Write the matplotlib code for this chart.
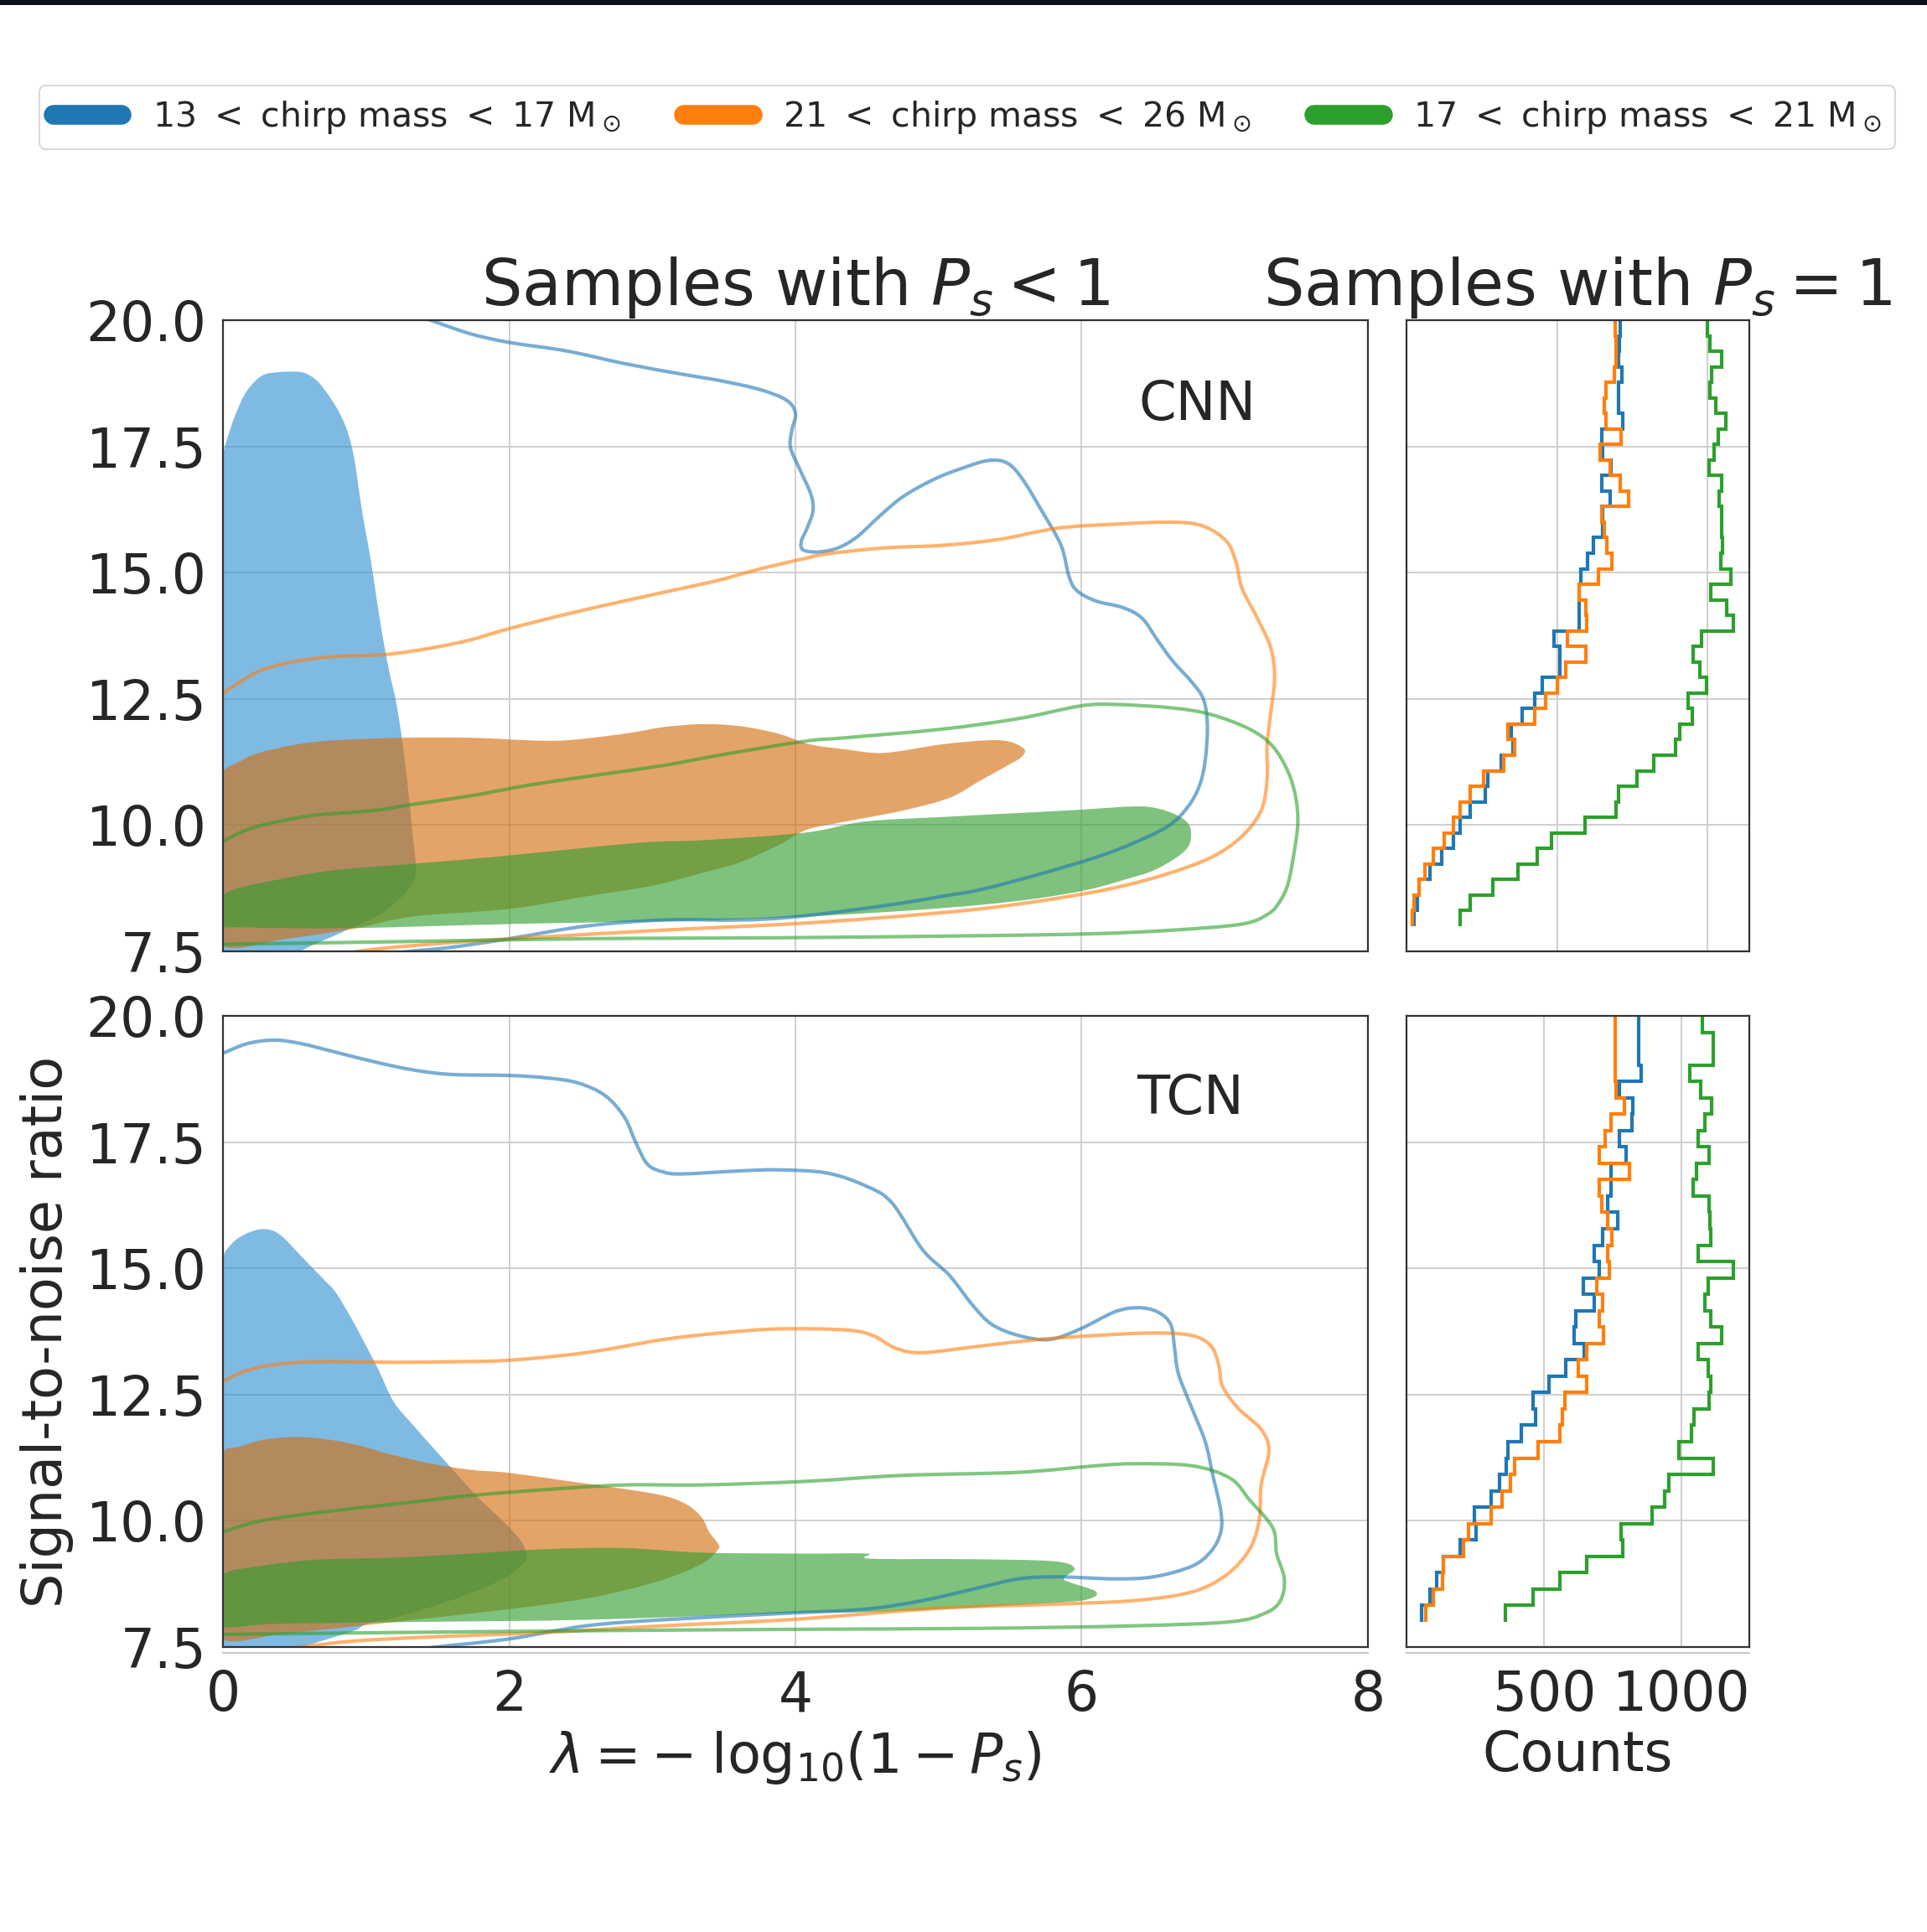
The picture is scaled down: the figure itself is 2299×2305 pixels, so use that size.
import numpy as np
import matplotlib
matplotlib.use("Agg")
import matplotlib.pyplot as plt
from matplotlib.lines import Line2D
from matplotlib.patches import Rectangle, PathPatch
from matplotlib.path import Path

# ---- colours -------------------------------------------------------------
C_BLUE, C_ORANGE, C_GREEN = "#1f77b4", "#ff7f0e", "#2ca02c"
F_BLUE, F_ORANGE, F_GREEN = "#3190d3", "#d46d0c", "#2f9d2f"

LABELS = [r"13 $<$ chirp mass $<$ 17 M$_\odot$",
          r"21 $<$ chirp mass $<$ 26 M$_\odot$",
          r"17 $<$ chirp mass $<$ 21 M$_\odot$"]

# ---- CNN: filled density regions (lambda, SNR) ----------------------------
cnn_fill_blue_x = [0, 0, 0, 0, 0, 0, 0.05, 0.09, 0.144, 0.198, 0.278, 0.386, 0.547, 0.641, 0.708, 0.789,
                   0.856, 0.897, 0.924, 0.95, 0.977, 1.01, 1.045, 1.085, 1.125, 1.165, 1.206, 1.241, 1.273,
                   1.30, 1.327, 1.345, 1.343, 1.304, 1.226, 1.109, 0.992, 0.894, 0.796, 0.68, 0.562, 0.45,
                   0.2]
cnn_fill_blue_y = [7.3, 9.5, 12.0, 14.5, 16.5, 17.3, 17.83, 18.15, 18.49, 18.71, 18.91, 18.97, 18.97, 18.84,
                   18.63, 18.29, 17.91, 17.53, 17.15, 16.64, 16.13, 15.62, 15.03, 14.27, 13.59, 13.0, 12.49,
                   11.9, 11.22, 10.54, 9.78, 9.3, 8.97, 8.75, 8.52, 8.25, 8.08, 7.96, 7.83, 7.69, 7.53, 7.3,
                   7.3]

cnn_fill_orange_x = [0, 0.117, 0.251, 0.52, 0.789, 1.246, 1.73, 2.134, 2.402, 2.806, 3.075, 3.344, 3.612,
                     3.881, 4.1, 4.35, 4.619, 5.023, 5.35, 5.5, 5.6, 5.58, 5.507, 5.291, 5.076, 4.754,
                     4.35, 4.08, 3.88, 3.6, 3.344, 3.0, 2.54, 2.0, 1.33, 0.9, 0.45, 0, 0, 0, 0]
cnn_fill_orange_y = [11.05, 11.26, 11.43, 11.6, 11.68, 11.73, 11.73, 11.68, 11.68, 11.81, 11.94, 12.0, 11.96,
                     11.81, 11.6, 11.5, 11.43, 11.6, 11.68, 11.65, 11.5, 11.35, 11.22, 10.88, 10.54, 10.29,
                     10.07, 9.91, 9.6, 9.25, 9.05, 8.8, 8.59, 8.34, 8.19, 7.94, 7.75, 7.61, 8.6, 9.6, 10.6]

cnn_fill_green_x = [0, 0.117, 0.367, 0.757, 1.353, 1.93, 2.905, 3.344, 4.064, 4.485, 5.023, 5.56, 5.964,
                    6.367, 6.53, 6.663, 6.744, 6.765, 6.744, 6.663, 6.501, 6.313, 6.044, 5.695, 5.291,
                    4.754, 4.216, 3.947, 3.344, 2.537, 1.999, 1.461, 0.924, 0.386, 0.117, 0, 0]
cnn_fill_green_y = [8.6, 8.76, 8.91, 9.1, 9.24, 9.38, 9.65, 9.7, 9.85, 10.07, 10.16, 10.24, 10.3,
                    10.37, 10.33, 10.2, 10.03, 9.82, 9.57, 9.36, 9.1, 8.93, 8.72, 8.55, 8.42,
                    8.3, 8.21, 8.17, 8.11, 8.07, 8.04, 8.0, 7.96, 7.96, 7.98, 8.0, 8.3]

# ---- CNN: outer contour lines --------------------------------------------
cnn_line_blue_x = [1.40, 1.461, 1.73, 1.999, 2.402, 2.806, 3.209, 3.478, 3.747, 3.935, 4.0, 3.975, 3.965,
                   4.028, 4.108, 4.122, 4.081, 4.041, 4.054, 4.162, 4.297, 4.431, 4.592, 4.754, 4.969,
                   5.157, 5.345, 5.48, 5.587, 5.722, 5.856, 5.91, 5.964, 6.098, 6.286, 6.421, 6.528,
                   6.636, 6.77, 6.851, 6.878, 6.864, 6.824, 6.744, 6.609, 6.367, 6.098, 5.695, 5.291,
                   5.023, 4.754, 4.35, 3.947, 3.612, 3.075, 2.537, 1.999, 1.596, 1.273, 1.1]
cnn_line_blue_y = [20.05, 19.99, 19.73, 19.56, 19.39, 19.14, 18.93, 18.8, 18.63, 18.42, 18.16, 17.82, 17.48,
                   17.06, 16.55, 16.22, 15.88, 15.62, 15.45, 15.41, 15.49, 15.71, 16.13, 16.51, 16.85,
                   17.06, 17.22, 17.17, 16.85, 16.22, 15.54, 14.94, 14.65, 14.44, 14.31, 14.1, 13.67,
                   13.25, 12.83, 12.49, 11.98, 11.3, 10.79, 10.37, 9.99, 9.65, 9.36, 9.02, 8.72,
                   8.59, 8.46, 8.3, 8.17, 8.12, 8.12, 8.0, 7.75, 7.58, 7.49, 7.4]

cnn_line_orange_x = [0, 0.117, 0.278, 0.52, 0.789, 1.139, 1.461, 1.73, 1.999, 2.402, 2.806, 3.209, 3.478,
                     3.747, 4.064, 4.216, 4.619, 5.023, 5.426, 5.829, 6.233, 6.636, 6.851, 7.012, 7.079,
                     7.12, 7.227, 7.321, 7.348, 7.321, 7.295, 7.295, 7.254, 7.12, 6.905, 6.582, 6.233,
                     5.829, 5.291, 4.619, 3.947, 3.075, 2.268, 1.73, 1.192, 0.924, 0.8]
cnn_line_orange_y = [12.61, 12.83, 13.08, 13.25, 13.34, 13.38, 13.51, 13.67, 13.89, 14.18, 14.44, 14.69, 14.86,
                     15.07, 15.28, 15.37, 15.49, 15.54, 15.66, 15.88, 15.96, 16.0, 15.92, 15.62, 15.2,
                     14.69, 14.1, 13.51, 12.91, 12.23, 11.56, 10.88, 10.29, 9.78, 9.36, 9.02, 8.76,
                     8.55, 8.34, 8.17, 8.04, 7.92, 7.79, 7.70, 7.58, 7.49, 7.4]

cnn_line_green_x = [0, 0.17, 0.386, 0.655, 1.058, 1.327, 1.73, 2.134, 2.537, 3.075, 3.478, 4.064, 4.35,
                    5.023, 5.56, 5.991, 6.233, 6.636, 6.904, 7.174, 7.335, 7.443, 7.496, 7.51, 7.483,
                    7.443, 7.389, 7.308, 7.12, 6.636, 6.098, 5.291, 3.947, 2.537, 1.192, 0]
cnn_line_green_y = [9.68, 9.91, 10.07, 10.2, 10.29, 10.41, 10.58, 10.79, 10.96, 11.18, 11.39, 11.66, 11.73,
                    11.9, 12.11, 12.36, 12.39, 12.32, 12.19, 11.9, 11.56, 11.05, 10.54, 10.03, 9.44,
                    8.85, 8.51, 8.25, 8.04, 7.92, 7.85, 7.81, 7.77, 7.75, 7.69, 7.64]

# ---- TCN: filled density regions -----------------------------------------
tcn_fill_blue_x = [0, 0, 0, 0, 0, 0, 0.063, 0.144, 0.251, 0.345, 0.426, 0.547, 0.708, 0.789, 0.897, 0.977,
                   1.085, 1.192, 1.327, 1.461, 1.623, 1.784, 1.972, 2.08, 2.12, 2.107, 2.026, 1.892, 1.676,
                   1.461, 1.192, 1.004, 0.924, 0.735, 0.547, 0.4, 0.2]
tcn_fill_blue_y = [7.3, 9.0, 11.0, 13.0, 14.5, 15.2, 15.49, 15.66, 15.77, 15.75, 15.6, 15.24, 14.77, 14.52,
                   14.01, 13.59, 13.0, 12.36, 11.9, 11.47, 10.96, 10.46, 9.95, 9.61, 9.35, 9.19, 8.97, 8.76,
                   8.51, 8.3, 8.08, 7.96, 7.83, 7.66, 7.49, 7.3, 7.3]

tcn_fill_orange_x = [0, 0.117, 0.278, 0.493, 0.708, 0.924, 1.192, 1.461, 1.73, 1.999, 2.402, 2.806, 3.075,
                     3.236, 3.344, 3.397, 3.465, 3.451, 3.371, 3.209, 2.94, 2.537, 1.999, 1.461, 0.924,
                     0.655, 0.386, 0, 0, 0, 0]
tcn_fill_orange_y = [11.34, 11.47, 11.6, 11.66, 11.62, 11.51, 11.3, 11.13, 11.01, 10.95, 10.79, 10.63, 10.5,
                     10.33, 10.07, 9.78, 9.52, 9.4, 9.19, 8.97, 8.72, 8.46, 8.25, 8.08, 7.91,
                     7.83, 7.75, 7.66, 8.6, 9.6, 10.6]

tcn_fill_green_x = [0, 0.251, 0.655, 1.192, 1.73, 2.268, 2.806, 3.344, 4.064, 4.5, 4.52, 5.2, 5.8, 5.95,
                    5.88, 5.9, 6.098, 6.05, 5.829, 5.023, 4.485, 3.947, 2.537, 1.461, 0.386, 0, 0]
tcn_fill_green_y = [8.93, 9.1, 9.23, 9.27, 9.35, 9.44, 9.46, 9.37, 9.35, 9.35, 9.25, 9.24, 9.2, 9.06,
                    8.88, 8.8, 8.6, 8.45, 8.38, 8.25, 8.19, 8.17, 8.04, 8.0, 7.96, 7.91, 8.4]

# ---- TCN: outer contour lines --------------------------------------------
tcn_line_blue_x = [0, 0.17, 0.359, 0.547, 0.789, 1.058, 1.327, 1.596, 1.999, 2.268, 2.483, 2.671, 2.806,
                   2.886, 2.967, 3.075, 3.209, 3.612, 3.881, 4.216, 4.485, 4.673, 4.888, 5.076, 5.238,
                   5.372, 5.56, 5.775, 5.99, 6.233, 6.394, 6.528, 6.622, 6.649, 6.676, 6.77, 6.864,
                   6.918, 6.972, 6.972, 6.905, 6.77, 6.501, 6.233, 5.829, 5.56, 5.291, 4.888, 4.485,
                   3.947, 3.075, 2.537, 1.999, 1.461, 1.3]
tcn_line_blue_y = [19.26, 19.45, 19.52, 19.45, 19.28, 19.09, 18.93, 18.84, 18.82, 18.77, 18.67, 18.42, 17.99,
                   17.48, 17.06, 16.91, 16.87, 16.93, 16.95, 16.89, 16.64, 16.3, 15.37, 14.86, 14.27,
                   13.89, 13.67, 13.59, 13.8, 14.14, 14.22, 14.14, 13.89, 13.42, 12.91, 12.23, 11.56,
                   10.88, 10.2, 9.78, 9.4, 9.1, 8.89, 8.85, 8.89, 8.85, 8.68, 8.42, 8.25,
                   8.17, 8.04, 7.92, 7.66, 7.49, 7.4]

tcn_line_orange_x = [0, 0.17, 0.386, 0.655, 1.192, 1.596, 1.999, 2.537, 3.075, 3.478, 3.881, 4.35, 4.539,
                     4.7, 4.888, 5.291, 5.695, 6.098, 6.501, 6.77, 6.904, 6.958, 6.985, 7.093, 7.254,
                     7.308, 7.254, 7.241, 7.174, 7.012, 6.77, 6.367, 5.829, 5.023, 3.947, 3.075, 2.268,
                     1.461, 0.924, 0.52, 0.4]
tcn_line_orange_y = [12.76, 12.98, 13.1, 13.15, 13.14, 13.15, 13.18, 13.33, 13.59, 13.72, 13.8, 13.78, 13.67,
                     13.42, 13.33, 13.46, 13.59, 13.67, 13.72, 13.67, 13.46, 13.08, 12.66, 12.23, 11.81,
                     11.39, 10.71, 10.03, 9.44, 8.93, 8.59, 8.42, 8.35, 8.27, 8.04, 7.92, 7.79,
                     7.7, 7.62, 7.49, 7.4]

tcn_line_green_x = [0, 0.251, 0.655, 1.192, 1.73, 2.268, 2.806, 3.344, 4.064, 4.754, 5.56, 6.098, 6.367,
                    6.77, 7.039, 7.174, 7.335, 7.362, 7.416, 7.389, 7.281, 7.039, 6.367, 5.291, 3.947,
                    1.999, 0]
tcn_line_green_y = [9.78, 9.99, 10.16, 10.33, 10.5, 10.62, 10.71, 10.71, 10.78, 10.9, 10.96, 11.09, 11.13,
                    11.09, 10.84, 10.41, 9.86, 9.35, 8.85, 8.42, 8.17, 8.0, 7.92, 7.87, 7.85,
                    7.81, 7.75]

# ---- histograms of SNR for samples with P_s = 1 ---------------------------
cnn_snr_edges = np.linspace(8.0, 20.0, 40)
cnn_counts_blue = [26, 37, 42, 79, 116, 157, 178, 213, 261, 270, 315, 354, 347, 384, 426, 452, 511, 511,
                   491, 574, 574, 574, 579, 602, 622, 653, 653, 676, 648, 681, 653, 648, 718, 704,
                   704, 715, 704, 708, 711]
cnn_counts_orange = [19, 26, 42, 60, 88, 125, 156, 178, 213, 255, 322, 359, 338, 426, 461, 500, 528, 597,
                     535, 600, 597, 574, 637, 683, 667, 657, 648, 739, 711, 676, 644, 713, 662, 657,
                     662, 690, 695, 695, 693]
cnn_counts_green = [178, 213, 287, 370, 435, 481, 593, 696, 706, 767, 822, 894, 907, 949, 935, 998, 974,
                    952, 981, 1085, 1065, 1011, 1079, 1045, 1051, 1048, 1046, 1039, 1046, 1005, 1023,
                    1035, 1060, 1028, 1007, 1014, 1046, 1009, 1000]

tcn_snr_edges = np.linspace(8.0, 20.0, 38)
tcn_counts_blue = [55, 85, 110, 135, 196, 252, 247, 307, 337, 363, 368, 418, 469, 459, 519, 580, 646, 610,
                   615, 681, 641, 701, 681, 711, 767, 731, 742, 742, 797, 772, 820, 822, 772, 853,
                   843, 843, 843]
tcn_counts_orange = [70, 97, 130, 135, 206, 226, 307, 348, 378, 393, 479, 558, 565, 575, 656, 625, 656,
                     716, 701, 711, 691, 736, 731, 746, 731, 709, 701, 810, 699, 721, 744, 792, 762,
                     757, 757, 757, 757]
tcn_counts_green = [360, 459, 558, 656, 787, 780, 893, 938, 954, 1115, 989, 1034, 1045, 1100, 1105, 1095,
                    1060, 1146, 1105, 1085, 1095, 1186, 1060, 1105, 1103, 1100, 1040, 1055, 1100, 1060,
                    1085, 1107, 1070, 1029, 1115, 1115, 1075]

# ---- style ---------------------------------------------------------------
TXT = "#262626"
plt.rcParams.update({
    "font.family": ["DejaVu Sans"],
    "mathtext.fontset": "dejavusans",
    "text.color": TXT,
    "axes.labelcolor": TXT,
    "xtick.color": TXT,
    "ytick.color": TXT,
    "axes.edgecolor": "#333333",
    "axes.linewidth": 1.6,
    "grid.color": "#cccccc",
    "grid.linewidth": 1.3,
    "axes.axisbelow": True,
    "xtick.major.size": 0,
    "ytick.major.size": 0,
    "xtick.major.pad": 19,
    "ytick.major.pad": 14,
})


def smooth_path(xs, ys, closed=False):
    """Cubic Bezier path passing through the given vertices (Catmull-Rom tangents)."""
    pts = np.column_stack([xs, ys]).astype(float)
    n = len(pts)
    verts, codes = [pts[0]], [Path.MOVETO]
    segs = n if closed else n - 1
    for i in range(segs):
        p0 = pts[(i - 1) % n] if (closed or i > 0) else pts[i]
        p1 = pts[i % n]
        p2 = pts[(i + 1) % n]
        p3 = pts[(i + 2) % n] if (closed or i + 2 < n) else p2
        verts += [p1 + (p2 - p0) / 6.0, p2 - (p3 - p1) / 6.0, p2]
        codes += [Path.CURVE4] * 3
    if closed:
        verts.append(pts[0])
        codes.append(Path.CLOSEPOLY)
    return Path(verts, codes)


W, H = 2299, 2305
fig = plt.figure(figsize=(W / 100, H / 100), dpi=100)
fig.patch.set_facecolor("white")


def px_axes(left, top, right, bottom):
    return fig.add_axes([left / W, 1 - bottom / H, (right - left) / W, (bottom - top) / H])


ax_cnn = px_axes(266, 382, 1632, 1135)
ax_tcn = px_axes(266, 1212, 1632, 1965)
hx_cnn = px_axes(1678, 382, 2087, 1135)
hx_tcn = px_axes(1678, 1212, 2087, 1965)

panels = [
    (ax_cnn, "CNN", (6.81, 18.33),
     [(cnn_fill_blue_x, cnn_fill_blue_y, F_BLUE), (cnn_fill_orange_x, cnn_fill_orange_y, F_ORANGE),
      (cnn_fill_green_x, cnn_fill_green_y, F_GREEN)],
     [(cnn_line_blue_x, cnn_line_blue_y, C_BLUE), (cnn_line_orange_x, cnn_line_orange_y, C_ORANGE),
      (cnn_line_green_x, cnn_line_green_y, C_GREEN)]),
    (ax_tcn, "TCN", (6.76, 18.35),
     [(tcn_fill_blue_x, tcn_fill_blue_y, F_BLUE), (tcn_fill_orange_x, tcn_fill_orange_y, F_ORANGE),
      (tcn_fill_green_x, tcn_fill_green_y, F_GREEN)],
     [(tcn_line_blue_x, tcn_line_blue_y, C_BLUE), (tcn_line_orange_x, tcn_line_orange_y, C_ORANGE),
      (tcn_line_green_x, tcn_line_green_y, C_GREEN)]),
]

snr_ticks = [7.5, 10.0, 12.5, 15.0, 17.5, 20.0]

for ax, name, pos, fills, lines in panels:
    for xs, ys, col in fills:
        ax.add_patch(PathPatch(smooth_path(xs, ys, closed=True), facecolor=col, alpha=0.62, lw=0))
    for xs, ys, col in lines:
        ax.add_patch(PathPatch(smooth_path(xs, ys), facecolor="none", edgecolor=col, alpha=0.6,
                               lw=3, joinstyle="round", capstyle="round"))
    ax.set_xlim(0, 8)
    ax.set_ylim(7.5, 20)
    ax.set_xticks([0, 2, 4, 6, 8])
    ax.set_yticks(snr_ticks)
    ax.set_yticklabels([f"{t:.1f}" for t in snr_ticks])
    ax.grid(True)
    ax.tick_params(labelsize=46.5)
    ax.text(pos[0], pos[1], name, fontsize=46, ha="center", va="center")

ax_cnn.tick_params(labelbottom=False)
ax_cnn.set_title(r"Samples with $P_s < 1$", fontsize=55, pad=12)
ax_tcn.set_xlabel(r"$\lambda = -\;\mathrm{log}_{10}(1 - P_s)$", fontsize=47)
ax_tcn.xaxis.set_label_coords(0.5, -0.13)
ax_tcn.set_ylabel("Signal-to-noise ratio", fontsize=47)
ax_tcn.yaxis.set_label_coords(-0.1305, 0.5)

hists = [
    (hx_cnn, cnn_snr_edges, [cnn_counts_blue, cnn_counts_orange, cnn_counts_green]),
    (hx_tcn, tcn_snr_edges, [tcn_counts_blue, tcn_counts_orange, tcn_counts_green]),
]
for hx, edges, series in hists:
    for vals, col in zip(series, [C_BLUE, C_ORANGE, C_GREEN]):
        hx.stairs(vals, edges, orientation="horizontal", baseline=None, color=col, lw=3)
    hx.set_ylim(7.5, 20)
    hx.set_yticks(snr_ticks)
    hx.set_xlim(0, 1.05 * max(max(s) for s in series))
    hx.set_xticks([500, 1000])
    hx.grid(True)
    hx.tick_params(labelleft=False, labelsize=46.5)

hx_cnn.tick_params(labelbottom=False)
hx_cnn.set_title(r"Samples with $P_s = 1$", fontsize=55, pad=12)
hx_tcn.set_xlabel("Counts", fontsize=47)
hx_tcn.xaxis.set_label_coords(0.5, -0.13)

# faint rule just under the bottom row of panels
for ax in (ax_tcn, hx_tcn):
    ax.plot([0, 1], [-0.009, -0.009], transform=ax.transAxes, clip_on=False,
            color="#c8c8c8", lw=1.5)

# ---- legend --------------------------------------------------------------
handles = [Line2D([], [], color=c, lw=17, solid_capstyle="round") for c in (C_BLUE, C_ORANGE, C_GREEN)]
leg = fig.legend(handles, LABELS, loc="center", bbox_to_anchor=(0.502, 1 - 140 / H), ncol=3,
                 fontsize=29.5, frameon=True, fancybox=True, handlelength=2.0, handletextpad=0.88,
                 columnspacing=1.85, borderpad=0.4)
leg.get_frame().set_edgecolor("#d0d0d0")
leg.get_frame().set_linewidth(1.5)

# thin dark band along the top edge
fig.patches.append(Rectangle((0, 1 - 6 / H), 1, 6 / H, transform=fig.transFigure,
                             facecolor="#0b0f1a", edgecolor="none"))

fig.savefig("out.png", dpi=100)
